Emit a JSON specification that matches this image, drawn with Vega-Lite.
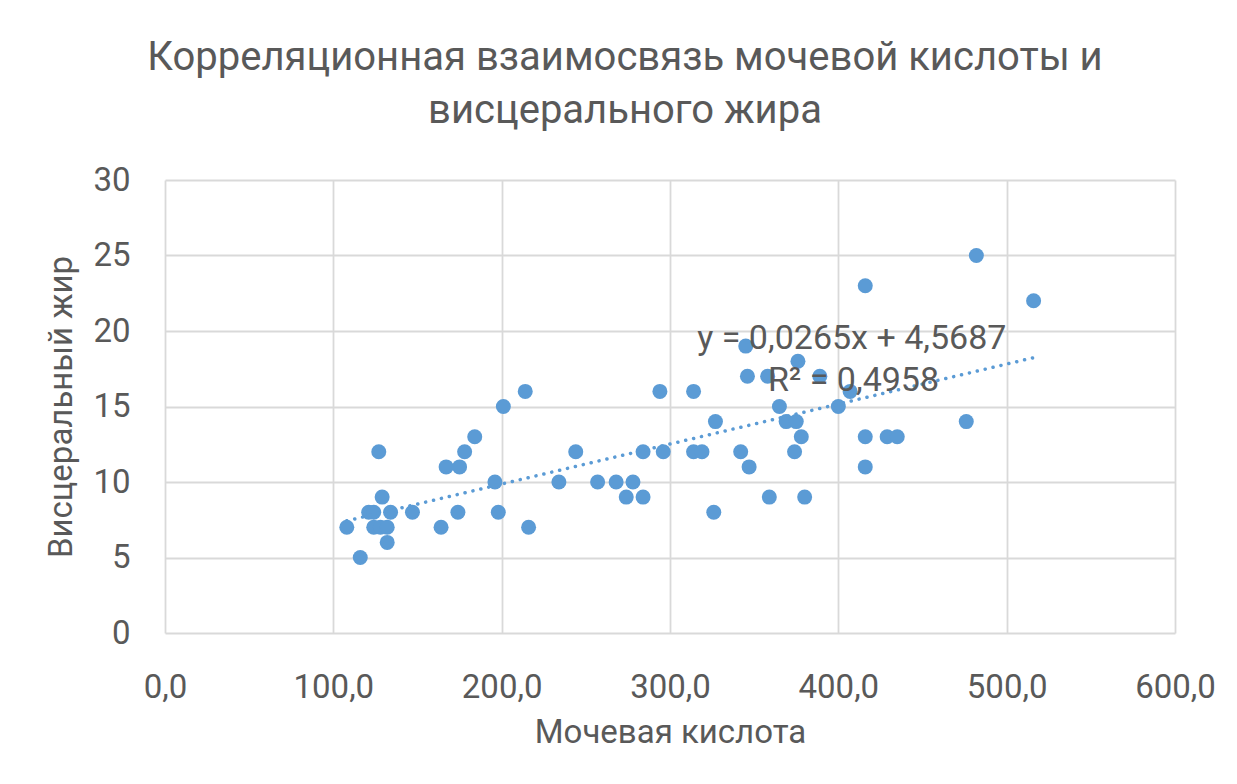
{
  "$schema": "https://vega.github.io/schema/vega-lite/v6.json",
  "autosize": "none",
  "width": 1010,
  "height": 453,
  "padding": {"left": 165, "top": 180, "right": 62, "bottom": 151},
  "background": "white",
  "title": {
    "text": ["Корреляционная взаимосвязь мочевой кислоты и", "висцерального жира"],
    "anchor": "middle",
    "frame": "group",
    "dx": -45,
    "offset": 33,
    "fontSize": 40,
    "font": "Roboto",
    "fontWeight": "normal",
    "color": "#595959",
    "lineHeight": 53
  },
  "datasets": {
    "points": [
      {"uric": 108, "fat": 7}, {"uric": 116, "fat": 5}, {"uric": 121, "fat": 8}, {"uric": 124, "fat": 8},
      {"uric": 127, "fat": 12}, {"uric": 124, "fat": 7}, {"uric": 128, "fat": 7}, {"uric": 132, "fat": 7},
      {"uric": 129, "fat": 9}, {"uric": 132, "fat": 6}, {"uric": 134, "fat": 8}, {"uric": 147, "fat": 8},
      {"uric": 164, "fat": 7}, {"uric": 167, "fat": 11}, {"uric": 174, "fat": 8}, {"uric": 175, "fat": 11},
      {"uric": 178, "fat": 12}, {"uric": 184, "fat": 13}, {"uric": 196, "fat": 10}, {"uric": 198, "fat": 8},
      {"uric": 201, "fat": 15}, {"uric": 214, "fat": 16}, {"uric": 216, "fat": 7}, {"uric": 234, "fat": 10},
      {"uric": 244, "fat": 12}, {"uric": 257, "fat": 10}, {"uric": 268, "fat": 10}, {"uric": 274, "fat": 9},
      {"uric": 278, "fat": 10}, {"uric": 284, "fat": 12}, {"uric": 284, "fat": 9}, {"uric": 294, "fat": 16},
      {"uric": 296, "fat": 12}, {"uric": 314, "fat": 16}, {"uric": 314, "fat": 12}, {"uric": 319, "fat": 12},
      {"uric": 326, "fat": 8}, {"uric": 327, "fat": 14}, {"uric": 342, "fat": 12}, {"uric": 345, "fat": 19},
      {"uric": 346, "fat": 17}, {"uric": 347, "fat": 11}, {"uric": 358, "fat": 17}, {"uric": 359, "fat": 9},
      {"uric": 365, "fat": 15}, {"uric": 369, "fat": 14}, {"uric": 374, "fat": 12}, {"uric": 375, "fat": 14},
      {"uric": 376, "fat": 18}, {"uric": 378, "fat": 13}, {"uric": 380, "fat": 9}, {"uric": 389, "fat": 17},
      {"uric": 400, "fat": 15}, {"uric": 407, "fat": 16}, {"uric": 416, "fat": 23}, {"uric": 416, "fat": 13},
      {"uric": 416, "fat": 11}, {"uric": 429, "fat": 13}, {"uric": 435, "fat": 13}, {"uric": 476, "fat": 14},
      {"uric": 482, "fat": 25}, {"uric": 516, "fat": 22}
    ],
    "labels": [
      {"uric": 408, "fat": 19.5, "label": "y = 0,0265x + 4,5687"},
      {"uric": 409, "fat": 16.7, "label": "R² = 0,4958"}
    ]
  },
  "config": {
    "font": "Roboto",
    "view": {"stroke": null},
    "axis": {
      "grid": true,
      "gridColor": "#d9d9d9",
      "gridWidth": 1.8,
      "domain": false,
      "ticks": false,
      "labelFont": "Roboto",
      "labelFontSize": 33,
      "labelColor": "#595959",
      "titleFont": "Roboto",
      "titleFontSize": 33,
      "titleFontWeight": "normal",
      "titleColor": "#595959"
    }
  },
  "layer": [
    {
      "data": {"name": "points"},
      "mark": {"type": "point", "filled": true, "opacity": 1, "size": 225, "color": "#5b9bd5", "shape": "circle"},
      "encoding": {
        "x": {
          "field": "uric", "type": "quantitative",
          "scale": {"domain": [0, 600], "nice": false, "zero": true},
          "axis": {
            "title": "Мочевая кислота",
            "values": [0, 100, 200, 300, 400, 500, 600],
            "labelExpr": "replace(format(datum.value, '.1f'), '.', ',')",
            "labelPadding": 38,
            "titlePadding": 12,
            "labelFlush": false,
            "labelOverlap": false
          }
        },
        "y": {
          "field": "fat", "type": "quantitative",
          "scale": {"domain": [0, 30], "nice": false},
          "axis": {
            "title": "Висцеральный жир",
            "values": [0, 5, 10, 15, 20, 25, 30],
            "labelPadding": 35,
            "titlePadding": 14,
            "labelFlush": false,
            "labelOverlap": false
          }
        }
      }
    },
    {
      "data": {"name": "points"},
      "transform": [{"regression": "fat", "on": "uric", "method": "linear"}],
      "mark": {"type": "line", "color": "#5b9bd5", "strokeWidth": 3.5, "strokeDash": [0.1, 8], "strokeCap": "round"},
      "encoding": {
        "x": {"field": "uric", "type": "quantitative"},
        "y": {"field": "fat", "type": "quantitative"}
      }
    },
    {
      "data": {"name": "labels"},
      "mark": {"type": "text", "fontSize": 34, "font": "Roboto", "color": "#595959", "align": "center", "baseline": "middle"},
      "encoding": {
        "x": {"field": "uric", "type": "quantitative"},
        "y": {"field": "fat", "type": "quantitative"},
        "text": {"field": "label"}
      }
    }
  ]
}
